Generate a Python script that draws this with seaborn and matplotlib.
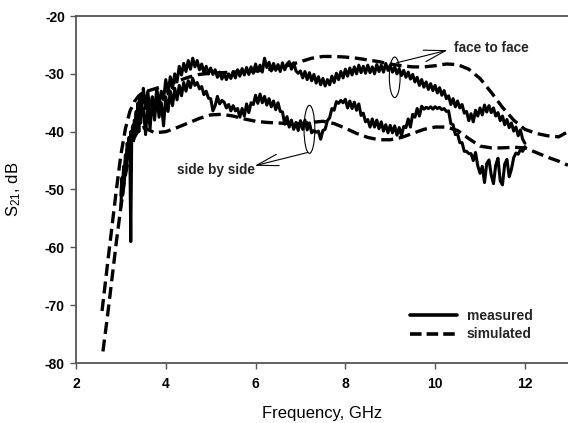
import numpy as np
import pandas as pd
import matplotlib
matplotlib.use("Agg")
import matplotlib.pyplot as plt
from matplotlib.patches import Ellipse
from matplotlib.lines import Line2D
import seaborn as sns

# ---------------- data ----------------
# measured curves: fine early section (3.00-3.48 GHz, step 0.02) + main section (3.50-12.00, step 0.05)
freq_early = np.round(np.arange(3.00, 3.49, 0.02), 2)
freq_main = np.round(np.arange(3.50, 12.001, 0.05), 2)

meas_face_early = [-51, -48, -49.5, -46, -47, -44, -45.5, -42, -43.5, -41, -42.5, -40, -41.5,
                   -39, -40.5, -38, -39, -36.5, -38.5, -35, -37, -34, -36.5, -33.5, -35]
meas_face_main = (
    [-32.5, -36, -33, -37, -34, -36.5, -32.5, -35.5, -33, -34.5]
    + [-31, -33.5, -30.5, -32.5, -30, -31.4, -28.7, -30.2, -28.2, -29.6, -27.7, -29.2, -27.3, -28.8, -27.7, -29.3, -28.3, -29.9, -28.7, -30]
    + [-29.0, -30.1, -29.3, -30.6, -29.7, -30.9, -29.9, -31.0, -30.0, -30.8, -29.6, -30.7, -29.3, -30.4, -29.1, -30.2, -28.9, -30.1, -28.8, -29.9]
    + [-28.3, -29.6, -28.5, -29.7, -27.3, -28.9, -28.0, -29.5, -28.2, -29.4, -28.4, -29.6, -28.1, -29.3, -28.3, -27.9, -29.2, -28.1, -29.5, -29.9]
    + [-29.5, -30.7, -29.6, -31.0, -29.8, -31.2, -30.1, -31.6, -30.5, -31.9, -30.8, -32.1, -31.0, -31.9, -30.4, -31.5, -29.9, -31.0, -29.6, -30.7]
    + [-29.2, -30.4, -29.0, -30.2, -28.8, -30.0, -28.5, -29.8, -28.7, -29.9, -28.5, -29.8, -28.8, -30.0, -28.4, -29.6, -28.5, -29.7, -28.2, -29.4]
    + [-28.5, -29.7, -28.8, -30.0, -29.1, -30.3, -29.4, -30.6, -29.7, -30.9, -30.1, -31.4, -30.6, -32.0, -31.0, -32.3, -31.4, -32.7, -31.7, -32.9]
    + [-32.0, -33.3, -32.4, -33.7, -32.9, -34.3, -33.8, -35.3, -34.3, -35.7, -34.7, -35.9, -35.3, -36.8, -36.5, -38.1, -36.9, -38.3, -36.3, -37.3]
    + [-35.9, -37.1, -35.4, -36.6, -35.5, -36.7, -35.9, -37.3, -36.7, -38.1, -37.3, -38.8, -37.9, -39.3, -38.5, -39.9, -39.2, -40.7, -39.7, -41.3]
    + [-42]
)

meas_side_early = [-53, -49, -51, -47, -48.5, -45, -46.5, -43, -44.5, -42, -44, -59, -42,
                   -40, -41.5, -38.5, -40.5, -37, -39.5, -36, -40, -35, -38.5, -34, -37]
meas_side_main = (
    [-36, -40.5, -35, -39.5, -34, -38, -33.5, -37.5, -35, -39]
    + [-34, -36.5, -33, -35.5, -32.5, -34.5, -32, -33.8, -31.5, -33, -31.2, -32.4, -30.8, -32, -31.5, -32.6, -32.2, -33.6, -33, -34.2]
    + [-34.3, -36.4, -35.5, -33.9, -35.2, -34.6, -34.9, -35.9, -35.3, -36.4, -35.5, -36.4, -36.0, -37.5, -36.0, -37.3, -35.2, -36.7, -35.0, -35.3]
    + [-33.7, -35.1, -33.5, -35.0, -33.9, -35.4, -34.3, -35.7, -34.7, -36.2, -35.0, -36.5, -36.6, -38.7, -37.4, -39.2, -38.0, -39.6, -38.4, -39.8]
    + [-38.1, -39.6, -38.0, -39.7, -38.5, -40.2, -39.8, -40.1, -39.9, -41.3, -39.8, -39.6, -38.1, -37.6, -36.0, -36.3, -34.8, -35.1, -34.6, -35.0]
    + [-34.4, -35.9, -34.7, -36.0, -34.9, -36.3, -35.2, -37.2, -36.8, -38.3, -37.9, -39.2, -37.8, -39.2, -38.0, -39.5, -38.3, -39.9, -38.8, -40.2]
    + [-38.9, -40.2, -39.0, -40.6, -39.3, -40.7, -39.1, -39.3, -37.8, -39.2, -37.0, -37.5, -36.0, -37.3, -35.6, -36.1, -35.8, -36.0, -35.7, -36.1]
    + [-35.7, -36.0, -35.8, -36.2, -36.0, -36.5, -36.4, -38.6, -38.8, -40.5, -40.4, -41.9, -41.9, -43.4, -43.4, -43.8, -43.8, -45.0, -43.6, -45.9]
    + [-47.2, -46, -48.8, -45.5, -44.9, -47.5, -49, -45.8, -44.6, -48.5, -49.2, -45.6, -44.8, -47.8, -46.5, -44.5, -43.7, -43.9, -43.1, -43.4]
    + [-42.6]
)

sim_face_freq = [2.58, 2.7, 2.8, 2.9, 3.0, 3.1, 3.2, 3.3, 3.4, 3.5, 3.75, 4.0, 4.25, 4.5, 4.75, 5.0,
                 5.25, 5.5, 5.75, 6.0, 6.25, 6.5, 6.75, 7.0, 7.25, 7.5, 7.75, 8.0, 8.25, 8.5, 8.75,
                 9.0, 9.25, 9.5, 9.75, 10.0, 10.25, 10.5, 10.75, 11.0, 11.25, 11.5, 11.75, 12.0,
                 12.25, 12.5, 12.75, 12.96]
sim_face = [-71, -63, -56.5, -50, -44, -39.5, -36.5, -34.8, -33.8, -33.2, -32.6, -32, -31.3, -30.6,
            -30.1, -29.9, -29.8, -29.7, -29.6, -29.5, -29.3, -29, -28.5, -27.9, -27.3, -27, -27,
            -27.1, -27.3, -27.6, -27.9, -28.3, -28.6, -28.8, -28.8, -28.6, -28.3, -28.4, -29.2,
            -30.8, -33.2, -35.8, -38, -39.6, -40.3, -40.7, -40.9, -40.0]

sim_side_freq = [2.6, 2.7, 2.8, 2.9, 3.0, 3.1, 3.2, 3.3, 3.4, 3.5, 3.6, 3.75, 4.0, 4.25, 4.5, 4.75,
                 5.0, 5.25, 5.5, 5.75, 6.0, 6.25, 6.5, 6.75, 7.0, 7.25, 7.5, 7.75, 8.0, 8.25, 8.5,
                 8.75, 9.0, 9.25, 9.5, 9.75, 10.0, 10.25, 10.5, 10.75, 11.0, 11.25, 11.5, 11.75,
                 12.0, 12.25, 12.5, 12.75, 12.96]
sim_side = [-78, -72, -65.5, -59, -53, -47.5, -43.5, -41, -39.6, -39.3, -39.6, -40.2, -40, -39.3,
            -38.5, -37.7, -37.1, -37, -37.3, -37.8, -38.2, -38.4, -38.5, -38.6, -38.6, -38.4,
            -38.2, -38.6, -39.4, -40.3, -41, -41.4, -41.4, -41, -40.3, -39.6, -39.2, -39.2,
            -39.8, -41.2, -42.5, -42.8, -42.8, -42.7, -42.8, -43.6, -44.4, -45.1, -45.8]

x_ticks = [2, 4, 6, 8, 10, 12]
y_ticks = [-80, -70, -60, -50, -40, -30, -20]

# ---------------- style ----------------
sns.set_theme(style="ticks")
plt.rcParams["font.family"] = ["Liberation Sans", "DejaVu Sans"]
plt.rcParams["mathtext.fontset"] = "custom"
plt.rcParams["mathtext.rm"] = "Liberation Sans"
plt.rcParams["mathtext.it"] = "Liberation Sans"
plt.rcParams["mathtext.bf"] = "Liberation Sans:bold"

fig = plt.figure(figsize=(5.68, 4.23), dpi=100)
ax = fig.add_axes([76 / 568, 60 / 423, 492 / 568, 347 / 423])

freq_meas = np.concatenate([freq_early, freq_main])
face_meas = np.array(meas_face_early + meas_face_main)
side_meas = np.array(meas_side_early + meas_side_main)

solid_kw = dict(color="black", lw=2.2, solid_joinstyle="round")
dash_kw = dict(color="black", lw=2.4, linestyle=(0, (3.6, 1.7)))

sns.lineplot(x=freq_meas, y=face_meas, ax=ax, sort=False, estimator=None, **solid_kw)
sns.lineplot(x=freq_meas, y=side_meas, ax=ax, sort=False, estimator=None, **solid_kw)
sns.lineplot(x=sim_face_freq, y=sim_face, ax=ax, sort=False, estimator=None, **dash_kw)
sns.lineplot(x=sim_side_freq, y=sim_side, ax=ax, sort=False, estimator=None, **dash_kw)

ax.set_xlim(2, 12.96)
ax.set_ylim(-80, -20)
ax.set_xticks(x_ticks)
ax.set_yticks(y_ticks)
ax.set_xticklabels([str(t) for t in x_ticks], fontweight="bold", fontsize=10)
ax.set_yticklabels([str(t) for t in y_ticks], fontweight="bold", fontsize=10)

spine_col = "#555555"
for s in ["left", "bottom", "top"]:
    ax.spines[s].set_color(spine_col)
    ax.spines[s].set_linewidth(1.3)
ax.spines["right"].set_visible(False)
ax.tick_params(axis="both", direction="out", length=4, width=1, color=spine_col,
               labelcolor="black", pad=4)
ax.tick_params(axis="x", pad=6)
ax.tick_params(top=False, right=False)

ax.set_xlabel("Frequency, GHz", fontsize=12, color="black")
ax.set_ylabel("S$_{\\mathrm{21}}$, dB", fontsize=12, color="black")
ax.xaxis.set_label_coords(0.5, -0.125)
ax.yaxis.set_label_coords(-0.108, 0.5)

# ellipses
ax.add_patch(Ellipse((9.1, -30.6), 0.24, 7.0, fill=False, ec="black", lw=0.8))
ax.add_patch(Ellipse((7.2, -39.6), 0.24, 8.3, fill=False, ec="black", lw=0.8))

# annotations
arrow_style = dict(arrowstyle="->,head_length=1.3,head_width=0.35", lw=0.8, color="black",
                   shrinkA=0, shrinkB=0)
ax.annotate("", xy=(10.28, -25.9), xytext=(9.14, -28.1), arrowprops=arrow_style)
ax.text(10.42, -25.6, "face to face", fontsize=9.8, fontweight="bold", va="center", ha="left")
ax.annotate("", xy=(5.98, -45.9), xytext=(7.16, -43.6), arrowprops=arrow_style)
ax.text(4.24, -46.6, "side by side", fontsize=9.8, fontweight="bold", va="center", ha="left")

# legend
handles = [Line2D([], [], color="black", lw=2.6),
           Line2D([], [], color="black", lw=2.6, linestyle=(0, (3.2, 1.4)))]
leg = ax.legend(handles, ["measured", "simulated"], loc="lower left",
                bbox_to_anchor=(0.679, 0.062), borderaxespad=0, borderpad=0,
                frameon=False, handlelength=3.35, handletextpad=0.72, labelspacing=0.3,
                prop=dict(size=10, weight="bold"))

fig.savefig("out.png", dpi=100)
